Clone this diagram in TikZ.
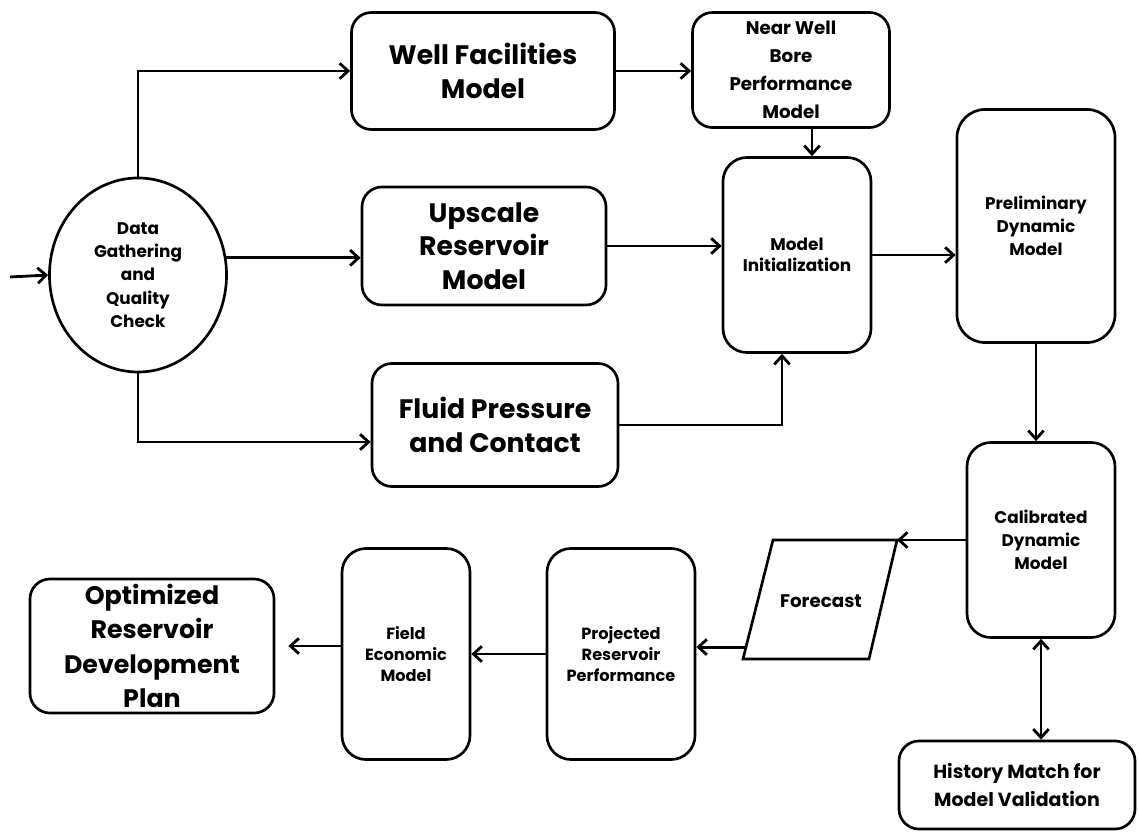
\documentclass[tikz,border=0pt]{standalone}
\usepackage{fontspec}
\setmainfont{Poppins}
\usetikzlibrary{arrows.meta,calc,shapes.geometric}

\tikzset{
  box/.style={draw, line width=1.9pt, rounded corners=0.5cm, align=center, inner sep=2pt},
  big/.style={font=\fontsize{19}{24}\selectfont\bfseries},
  small/.style={font=\fontsize{12}{16.5}\selectfont\bfseries},
  arr/.style={line width=2pt, -{Straight Barb[length=6pt,width=11pt,line width=2pt]}},
  dbl/.style={line width=2pt, {Straight Barb[length=6pt,width=11pt,line width=2pt]}-{Straight Barb[length=6pt,width=11pt,line width=2pt]}},
}

\begin{document}
\begin{tikzpicture}[x=0.025cm, y=-0.025cm]
  \useasboundingbox (0,0) rectangle (1139,832);

  %%% nodes
  \node[draw, line width=1.9pt, ellipse, minimum width=4.425cm, minimum height=4.85cm, inner sep=0pt, align=center, small] (dg) at (138,275) {Data\\Gathering\\and\\Quality\\Check};
  \coordinate (start) at (10,277);

  \node[box, big, minimum width=6.575cm, minimum height=2.925cm] (wfm) at (483,71) {Well Facilities\\Model};
  \node[box, small, font=\fontsize{13}{20}\selectfont\bfseries, minimum width=4.925cm, minimum height=2.875cm] (nwb) at (791,70) {Near Well\\Bore\\Performance\\Model};
  \node[box, big, minimum width=6.1cm, minimum height=2.95cm] (ups) at (484,246) {Upscale\\Reservoir\\Model};
  \node[box, small, font=\fontsize{12}{15}\selectfont\bfseries, minimum width=3.7cm, minimum height=4.875cm, rounded corners=0.6cm] (mi) at (797,255) {Model\\Initialization};
  \node[box, big, minimum width=6.15cm, minimum height=3.075cm] (fp) at (495,425) {Fluid Pressure\\and Contact};
  \node[box, small, minimum width=3.95cm, minimum height=5.825cm, rounded corners=0.7cm] (pdm) at (1036,226) {Preliminary\\Dynamic\\Model};
  \node[box, small, minimum width=3.7cm, minimum height=4.875cm, rounded corners=0.6cm] (cdm) at (1041,540) {Calibrated\\Dynamic\\Model};

  % forecast (parallelogram)
  \coordinate (fctl) at (773,540);
  \coordinate (fctr) at (897,540);
  \coordinate (fcbr) at (869,659);
  \coordinate (fcbl) at (743,659);
  \draw[line width=1.9pt] (fcbl) -- (fcbr) -- (fctr) -- (fctl) -- cycle;
  \node[small, font=\fontsize{13}{16}\selectfont\bfseries] (fc) at (821,601) {Forecast};

  \node[box, small, font=\fontsize{11.5}{15}\selectfont\bfseries, minimum width=3.7cm, minimum height=5.275cm, rounded corners=0.6cm] (proj) at (621,654) {Projected\\Reservoir\\Performance};
  \node[box, small, font=\fontsize{11.5}{15}\selectfont\bfseries, minimum width=3.2cm, minimum height=5.275cm, rounded corners=0.6cm] (fem) at (406,654) {Field\\Economic\\Model};
  \node[box, big, font=\fontsize{18}{24.5}\selectfont\bfseries, minimum width=6.1cm, minimum height=3.35cm] (opt) at (152,646) {Optimized\\Reservoir\\Development\\Plan};
  \node[box, small, font=\fontsize{13.5}{20}\selectfont\bfseries, minimum width=5.9cm, minimum height=2.2cm] (hist) at (1017,785) {History Match for\\Model Validation};

  %%% connectors
  \draw[arr] (start) -- (dg.west);
  \draw[arr] (dg.north) |- (wfm.west);
  \draw[arr] (dg.11) -- (dg.11 -| ups.west);
  \draw[arr] (dg.south) |- ($(fp.west)+(0,17)$);
  \draw[arr] (wfm.east) -- (wfm.east -| nwb.west);
  \draw[arr] ([xshift=0.525cm]nwb.south) -- ([xshift=0.525cm]nwb.south |- mi.north);
  \draw[arr] (ups.east) -- (ups.east -| mi.west);
  \draw[arr] (mi.east) -- (mi.east -| pdm.west);
  \draw[arr] (fp.east) -| ([xshift=-0.375cm]mi.south);
  \draw[arr] (pdm.south) -- (pdm.south |- cdm.north);
  \draw[arr] (cdm.west |- fctr) -- (fctr);
  \coordinate (fcout) at ($(fcbl)!0.1!(fctl)$);
  \draw[arr] (fcout) -- (fcout -| proj.east);
  \draw[arr] (proj.west) -- (proj.west -| fem.east);
  \draw[arr, shorten >=0.325cm] (fem.west |- opt.east) -- (opt.east);
  \draw[dbl] (cdm.south) -- (cdm.south |- hist.north);
\end{tikzpicture}
\end{document}
